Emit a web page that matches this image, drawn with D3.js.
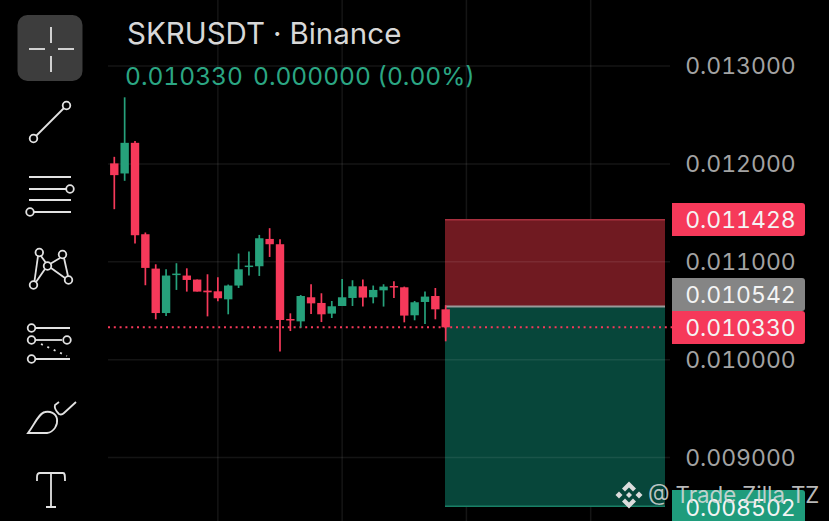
<!DOCTYPE html>
<html>
<head>
<meta charset="utf-8">
<script src="https://cdn.jsdelivr.net/npm/d3@7"></script>
<style>
html, body { margin: 0; padding: 0; background: #000; overflow: hidden; }
text { font-family: Inter, Roboto, sans-serif; font-variant-numeric: tabular-nums; }
</style>
</head>
<body>
<svg id="chart" width="829" height="521"></svg>
<script>
// candles
var opens  = [0.012005,0.011902,0.012215,0.011281,0.010930,0.010476,0.010865,0.010859,0.010818,0.010705,0.010698,0.010616,0.010757,0.010947,0.010954,0.011233,0.011179,0.010415,0.010391,0.010637,0.010579,0.010470,0.010548,0.010630,0.010749,0.010637,0.010708,0.010752,0.010739,0.010453,0.010589,0.010650,0.010514];
var highs  = [0.012072,0.012680,0.012233,0.011299,0.010974,0.010923,0.010985,0.010933,0.010818,0.010872,0.010841,0.010767,0.011084,0.011104,0.011274,0.011343,0.011230,0.010473,0.010660,0.010770,0.010678,0.010599,0.010824,0.010811,0.010818,0.010757,0.010770,0.010800,0.010746,0.010599,0.010695,0.010732,0.010555];
var lows   = [0.011537,0.011827,0.011186,0.010760,0.010412,0.010445,0.010712,0.010695,0.010695,0.010442,0.010596,0.010463,0.010732,0.010859,0.010855,0.011049,0.010084,0.010292,0.010327,0.010466,0.010384,0.010425,0.010548,0.010548,0.010542,0.010575,0.010542,0.010630,0.010381,0.010402,0.010364,0.010412,0.010187];
var closes = [0.011885,0.012215,0.011271,0.010937,0.010476,0.010859,0.010879,0.010814,0.010695,0.010688,0.010627,0.010757,0.010923,0.010961,0.011240,0.011179,0.010405,0.010402,0.010650,0.010575,0.010463,0.010545,0.010637,0.010749,0.010634,0.010712,0.010746,0.010739,0.010450,0.010586,0.010644,0.010514,0.010330];

var yTicks = [0.013, 0.012, 0.011, 0.010, 0.009];
var xGrid = [10, 22, 34, 46];   // candle index of the vertical grid lines

var entry = 0.010542, stop = 0.011428, target = 0.008502, last = 0.010330;
var zoneFrom = 32.0;

var UP = "#26a17b", DOWN = "#f6395a";

var svg = d3.select("#chart");

var y = d3.scaleLinear().domain([0.009, 0.013]).range([457.5, 66]);
var x = d3.scaleLinear().domain([0, 32]).range([114.3, 445.7]);

// grid
svg.append("g").selectAll("line").data(xGrid).enter().append("line")
   .attr("x1", function(d){ return x(d); }).attr("x2", function(d){ return x(d); })
   .attr("y1", 0).attr("y2", 521)
   .attr("stroke", "#151515").attr("stroke-width", 1.5);

// long position box, hides the vertical grid lines
var zx = x(zoneFrom) - 0.7, zw = 665 - zx;
svg.append("rect").attr("x", zx).attr("width", zw)
   .attr("y", y(stop)).attr("height", y(entry) - y(stop))
   .attr("fill", "#701a21");
svg.append("rect").attr("x", zx).attr("width", zw)
   .attr("y", y(entry)).attr("height", y(target) - y(entry))
   .attr("fill", "#07463a");

svg.append("g").selectAll("line").data(yTicks).enter().append("line")
   .attr("x1", 108).attr("x2", 670)
   .attr("y1", function(d){ return y(d); }).attr("y2", function(d){ return y(d); })
   .attr("stroke", "#ffffff").attr("stroke-opacity", 0.08).attr("stroke-width", 1.5);

svg.append("line").attr("x1", zx).attr("x2", zx + zw)
   .attr("y1", y(stop)).attr("y2", y(stop)).attr("stroke", "#a8303f").attr("stroke-width", 1.5);
svg.append("line").attr("x1", zx).attr("x2", zx + zw)
   .attr("y1", y(entry)).attr("y2", y(entry)).attr("stroke", "#9a9a9a").attr("stroke-width", 2);
svg.append("line").attr("x1", zx).attr("x2", zx + zw)
   .attr("y1", y(target)).attr("y2", y(target)).attr("stroke", "#1a7f66").attr("stroke-width", 1.5);

// last price line
svg.append("line").attr("x1", 108).attr("x2", 672)
   .attr("y1", y(last)).attr("y2", y(last))
   .attr("stroke", DOWN).attr("stroke-width", 2).attr("stroke-dasharray", "2 3.8");

// candles
var candles = svg.append("g").selectAll("g").data(d3.range(opens.length)).enter().append("g");
function col(i){ return closes[i] >= opens[i] ? UP : DOWN; }
candles.append("line")
   .attr("x1", function(i){ return x(i); }).attr("x2", function(i){ return x(i); })
   .attr("y1", function(i){ return y(highs[i]); }).attr("y2", function(i){ return y(lows[i]); })
   .attr("stroke", col).attr("stroke-width", 1.7);
candles.append("rect")
   .attr("x", function(i){ return x(i) - 4.2; }).attr("width", 8.4)
   .attr("y", function(i){ return y(Math.max(opens[i], closes[i])); })
   .attr("height", function(i){ return Math.max(1.5, Math.abs(y(opens[i]) - y(closes[i]))); })
   .attr("fill", col);

// price scale
var tickFormat = d3.format(".6f");
var scaleFont = 23;
svg.append("g").selectAll("text").data(yTicks).enter().append("text")
   .attr("x", 740.5).attr("y", function(d){ return y(d); }).attr("dy", "0.36em")
   .attr("text-anchor", "middle").attr("font-size", scaleFont).attr("fill", "#a3a3a3")
   .text(tickFormat);

function priceLabel(value, fill, top, h) {
    svg.append("path")
       .attr("d", "M672," + top + "H802a3,3 0 0 1 3,3V" + (top + h - 3) + "a3,3 0 0 1 -3,3H672Z")
       .attr("fill", fill);
    svg.append("text").attr("x", 740.5).attr("y", top + h / 2).attr("dy", "0.36em")
       .attr("text-anchor", "middle").attr("font-size", scaleFont).attr("fill", "#f4f4f4")
       .text(tickFormat(value));
}
priceLabel(stop, DOWN, 203, 33);
priceLabel(entry, "#858585", 278, 33);
priceLabel(last, DOWN, 311, 33);
priceLabel(target, "#1f9c7c", 490, 36);

// header
svg.append("text").attr("x", 127).attr("y", 44).attr("font-size", 29.5).attr("fill", "#d8d8d8")
   .text("SKRUSDT · Binance");
svg.append("text").attr("x", 125).attr("y", 85).attr("font-size", 24.5).attr("fill", "#2ba683")
   .text(tickFormat(last));
svg.append("text").attr("x", 253).attr("y", 85).attr("font-size", 24.5).attr("fill", "#2ba683")
   .text("0.000000 (0.00%)");

// toolbar
var tools = svg.append("g").attr("fill", "none").attr("stroke", "#e2e2e2").attr("stroke-width", 1.8);
tools.append("rect").attr("x", 17.5).attr("y", 15).attr("width", 65).attr("height", 66).attr("rx", 10)
     .attr("fill", "#3d3d3d").attr("stroke", "none");
function seg(x1, y1, x2, y2) {
    tools.append("line").attr("x1", x1).attr("y1", y1).attr("x2", x2).attr("y2", y2);
}
function dot(cx, cy) {
    tools.append("circle").attr("cx", cx).attr("cy", cy).attr("r", 3.8);
}
seg(51, 27, 51, 43); seg(51, 56, 51, 72); seg(29, 49, 45, 49); seg(58, 49, 74, 49);
seg(36, 136, 64, 108); dot(33.5, 138.5); dot(66.5, 105.5);
seg(29, 177, 71, 177); seg(29, 189, 66, 189); dot(70, 189); seg(29, 200, 71, 200);
seg(34, 212, 71, 212); dot(30, 212);
seg(38, 256, 34.5, 281); seg(41, 256, 46, 263); seg(60, 258, 50, 264); seg(64, 258, 68, 276);
seg(36, 282, 45, 269); seg(51, 268, 65, 278);
dot(39.3, 252.5); dot(62.5, 254.5); dot(47.5, 266); dot(33.5, 285); dot(68.5, 280);
seg(36, 328, 70, 328); seg(36, 340, 62, 340); seg(36, 359, 70, 359);
dot(31.5, 328); dot(31.5, 340); dot(67, 340); dot(31.5, 359);
tools.append("line").attr("x1", 41).attr("y1", 344).attr("x2", 67).attr("y2", 356)
     .attr("stroke-dasharray", "2 5");
tools.append("path").attr("d", "M28,433 L47,433 C54,432 58,425 57,419 C56,413 50,411 45,412 C39,413 34,425 28,433 Z");
tools.append("path").attr("d", "M59,402 L55,405 C54,408 56,411 59,414 C61,415 63,414 64,413 L76,402");
tools.append("path").attr("d", "M37,481 V477 C37,474 38,473 40,473 H63 C65,473 65,475 65,481 M51,473 V507 M46,507 H56");

// watermark
var mark = svg.append("g").attr("transform", "translate(629,495)").attr("fill", "#dcdcdc");
mark.append("path").attr("d", "M0,-13.5L7,-6.5L4,-3.5L0,-7.5L-4,-3.5L-7,-6.5Z");
mark.append("path").attr("d", "M0,13.5L7,6.5L4,3.5L0,7.5L-4,3.5L-7,6.5Z");
mark.append("path").attr("d", "M-13.5,0L-10,-3.5L-6.5,0L-10,3.5Z");
mark.append("path").attr("d", "M13.5,0L10,-3.5L6.5,0L10,3.5Z");
mark.append("path").attr("d", "M0,-3L3,0L0,3L-3,0Z");
svg.append("text").attr("x", 648).attr("y", 503).attr("font-size", 22.3).attr("fill", "#dcdcdc")
   .attr("fill-opacity", 0.85).text("@ Trade Zilla TZ");
</script>
</body>
</html>
